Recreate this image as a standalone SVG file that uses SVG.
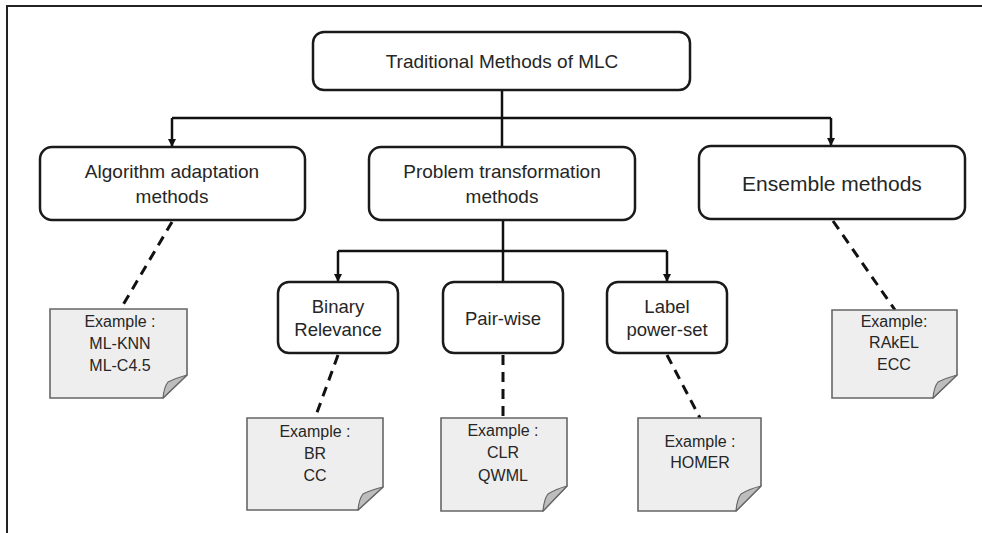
<svg xmlns="http://www.w3.org/2000/svg" width="982" height="533" viewBox="0 0 982 533">
  <style>
    .box { fill: #ffffff; stroke: #1a1a1a; stroke-width: 2.5; }
    .note { fill: #eeeeee; stroke: #666666; stroke-width: 1.6; stroke-linejoin: miter; }
    .fold { fill: #bdbdbd; stroke: #666666; stroke-width: 1.2; stroke-linejoin: round; }
    .lbl { font-family: "Liberation Sans", Arial, sans-serif; fill: #262626; text-anchor: middle; }
    .t1 { font-size: 19px; }
    .t2 { font-size: 19px; }
    .t3 { font-size: 18.5px; }
    .tn { font-size: 16px; }
    .link { fill: none; stroke: #111111; stroke-width: 2.5; }
    .dash { fill: none; stroke: #111111; stroke-width: 3; stroke-dasharray: 10 7; }
    .frame { fill: none; stroke: #222222; stroke-width: 2; }
  </style>
  <defs>
    <marker id="arrow" viewBox="0 0 10 10" refX="10" refY="5" markerWidth="3.2" markerHeight="3.2" orient="auto" markerUnits="strokeWidth">
      <path d="M0,0 L10,5 L0,10 Z" fill="#111111"/>
    </marker>
  </defs>

  <rect width="982" height="533" fill="#ffffff"/>
  <!-- page frame (top and left edges) -->
  <path class="frame" d="M7,533 V6 H982"/>

  <!-- tree connectors and dashed example links -->
  <g id="connectors">
    <path class="link" d="M502,90 V147"/>
    <path class="link" d="M172,118 H831"/>
    <path class="link" d="M172,118 V147" marker-end="url(#arrow)"/>
    <path class="link" d="M831,118 V146" marker-end="url(#arrow)"/>
    <path class="link" d="M503,220 V282"/>
    <path class="link" d="M338,251 H667"/>
    <path class="link" d="M338,251 V282" marker-end="url(#arrow)"/>
    <path class="link" d="M667,251 V282" marker-end="url(#arrow)"/>
    <path class="dash" d="M172,222 L120,310"/>
    <path class="dash" d="M833,221 L895,310"/>
    <path class="dash" d="M338,355 L315,418"/>
    <path class="dash" d="M503,355 V418"/>
    <path class="dash" d="M667,355 L700,418"/>
  </g>

  <g id="root">
    <rect class="box" x="313" y="32" width="377" height="58" rx="11"/>
    <text class="lbl t1" x="502" y="68">Traditional Methods of MLC</text>
  </g>

  <g id="algorithm-adaptation">
    <rect class="box" x="40" y="147" width="265" height="73" rx="12"/>
    <text class="lbl t2" x="172" y="178">Algorithm adaptation</text>
    <text class="lbl t2" x="172" y="203">methods</text>
  </g>

  <g id="problem-transformation">
    <rect class="box" x="369" y="147" width="266" height="73" rx="12"/>
    <text class="lbl t2" x="502" y="178">Problem transformation</text>
    <text class="lbl t2" x="502" y="203">methods</text>
  </g>

  <g id="ensemble">
    <rect class="box" x="699" y="146" width="266" height="73" rx="12"/>
    <text class="lbl" style="font-size:21px" x="832" y="191">Ensemble methods</text>
  </g>

  <g id="binary-relevance">
    <rect class="box" x="278" y="282" width="120" height="71" rx="11"/>
    <text class="lbl t3" x="338" y="313">Binary</text>
    <text class="lbl t3" x="338" y="336">Relevance</text>
  </g>

  <g id="pair-wise">
    <rect class="box" x="443" y="282" width="120" height="71" rx="11"/>
    <text class="lbl t3" x="503" y="325">Pair-wise</text>
  </g>

  <g id="label-power-set">
    <rect class="box" x="607" y="282" width="120" height="71" rx="11"/>
    <text class="lbl t3" x="667" y="313">Label</text>
    <text class="lbl t3" x="667" y="336">power-set</text>
  </g>

  <!-- example notes with folded corner -->
  <g id="note-algorithm">
    <path class="note" d="M50,309 H187 V375 L163,398 H50 Z"/>
    <path class="fold" d="M187,375 L163,398 Q164,387 168,382 Q176,378 187,375 Z"/>
    <text class="lbl tn" x="120" y="327">Example :</text>
    <text class="lbl tn" x="120" y="349">ML-KNN</text>
    <text class="lbl tn" x="120" y="371">ML-C4.5</text>
  </g>

  <g id="note-binary">
    <path class="note" d="M247,418 H383 V487 L358,510 H247 Z"/>
    <path class="fold" d="M383,487 L358,510 Q359,499 363,494 Q371,490 383,487 Z"/>
    <text class="lbl tn" x="315" y="437">Example :</text>
    <text class="lbl tn" x="315" y="459">BR</text>
    <text class="lbl tn" x="315" y="481">CC</text>
  </g>

  <g id="note-pairwise">
    <path class="note" d="M441,418 H567 V486 L543,511 H441 Z"/>
    <path class="fold" d="M567,486 L543,511 Q544,499 548,494 Q556,489 567,486 Z"/>
    <text class="lbl tn" x="503" y="436">Example :</text>
    <text class="lbl tn" x="503" y="458">CLR</text>
    <text class="lbl tn" x="503" y="481">QWML</text>
  </g>

  <g id="note-label">
    <path class="note" d="M638,418 H761 V486 L736,511 H638 Z"/>
    <path class="fold" d="M761,486 L736,511 Q737,499 741,494 Q749,489 761,486 Z"/>
    <text class="lbl tn" x="700" y="447">Example :</text>
    <text class="lbl tn" x="700" y="468">HOMER</text>
  </g>

  <g id="note-ensemble">
    <path class="note" d="M832,310 H957 V375 L933,398 H832 Z"/>
    <path class="fold" d="M957,375 L933,398 Q934,387 938,382 Q946,378 957,375 Z"/>
    <text class="lbl tn" x="894" y="327">Example:</text>
    <text class="lbl tn" x="894" y="348">RAkEL</text>
    <text class="lbl tn" x="894" y="370">ECC</text>
  </g>
</svg>
